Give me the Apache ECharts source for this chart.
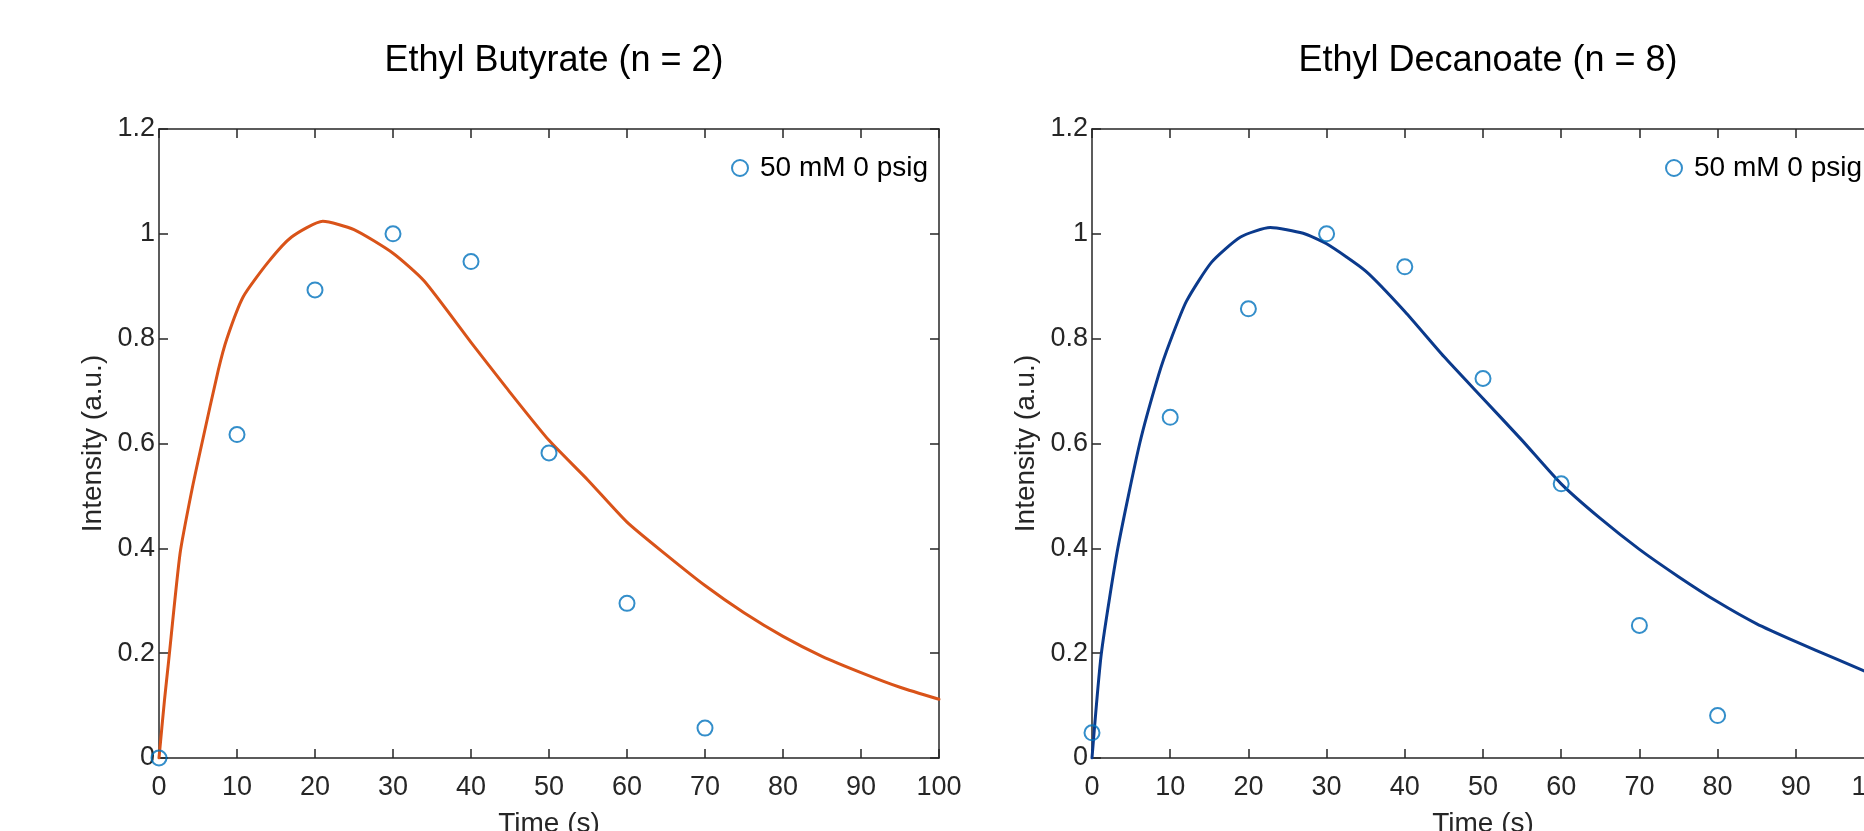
<!DOCTYPE html>
<html>
<head>
<meta charset="utf-8">
<script src="https://cdn.jsdelivr.net/npm/echarts@6/dist/echarts.min.js"></script>
<style>
html,body{margin:0;padding:0;background:#fff;}
#chart{width:1864px;height:831px;}
</style>
</head>
<body>
<div id="chart"></div>
<script>
// ---- data ----
const titles = ['Ethyl Butyrate (n = 2)', 'Ethyl Decanoate (n = 8)'];
const legendName = '50 mM 0 psig';
const xAxisName = 'Time (s)';
const yAxisName = 'Intensity (a.u.)';

const butyrateObsT = [0, 10, 20, 30, 40, 50, 60, 70];
const butyrateObsY = [0, 0.617, 0.893, 1.0, 0.947, 0.582, 0.295, 0.057];

const decanoateObsT = [0, 10, 20, 30, 40, 50, 60, 70, 80];
const decanoateObsY = [0.048, 0.650, 0.857, 1.0, 0.937, 0.724, 0.523, 0.253, 0.081];

const butyrateFitT = [0, 0.7, 1.2, 2.7, 4.2, 5.5, 7.6, 8.7, 10.8, 14, 17, 21, 25, 30, 34, 40, 44.5, 50, 55, 60, 65, 70, 75, 80, 85, 90, 95, 100];
const butyrateFitY = [0, 0.11, 0.18, 0.39, 0.51, 0.60, 0.74, 0.80, 0.88, 0.946, 0.994, 1.024, 1.008, 0.963, 0.91, 0.793, 0.707, 0.606, 0.53, 0.45, 0.388, 0.329, 0.277, 0.232, 0.194, 0.163, 0.135, 0.112];

const decanoateFitT = [0, 1.2, 3.3, 6.1, 8.5, 10, 12.1, 15.3, 19, 22.8, 27, 30, 35, 40, 45, 50, 55, 60, 65, 70, 75, 80, 85, 90, 95, 100];
const decanoateFitY = [0, 0.20, 0.40, 0.60, 0.73, 0.795, 0.872, 0.946, 0.994, 1.012, 1.001, 0.981, 0.929, 0.852, 0.766, 0.686, 0.606, 0.523, 0.457, 0.398, 0.346, 0.298, 0.256, 0.222, 0.19, 0.158];

const xMin = 0, xMax = 100, xStep = 10;
const yMin = 0, yMax = 1.2, yStep = 0.2;

// ---- styling ----
const FONT = 'Liberation Sans, Arial, Helvetica, sans-serif';
const AXIS_COLOR = '#262626';
const MARKER_COLOR = '#0072BD';
const FIT_COLORS = ['#D95319', '#0B3A8C'];

function zip(a, b) { return a.map((v, i) => [v, b[i]]); }

const grids = [
  { left: 159, top: 129, width: 780, height: 629, outerBoundsMode: 'none', containLabel: false },
  { left: 1092, top: 129, width: 782, height: 629, outerBoundsMode: 'none', containLabel: false }
];
const centers = [549, 1483];

const axisLine = { show: true, onZero: false, lineStyle: { color: AXIS_COLOR, width: 1.5 } };
const axisTick = { show: true, inside: true, length: 9, lineStyle: { color: AXIS_COLOR, width: 1.5 } };

const xAxes = [], yAxes = [];
grids.forEach((g, i) => {
  xAxes.push({
    type: 'value', gridIndex: i, position: 'bottom', min: xMin, max: xMax, interval: xStep,
    axisLine, axisTick, splitLine: { show: false },
    axisLabel: { color: AXIS_COLOR, fontFamily: FONT, fontSize: 27, margin: 16 },
    name: xAxisName, nameLocation: 'middle', nameGap: 52,
    nameTextStyle: { color: AXIS_COLOR, fontFamily: FONT, fontSize: 28 }
  });
  xAxes.push({
    type: 'value', gridIndex: i, position: 'top', min: xMin, max: xMax, interval: xStep,
    axisLine, axisTick, splitLine: { show: false }, axisLabel: { show: false }
  });
  yAxes.push({
    type: 'value', gridIndex: i, position: 'left', min: yMin, max: yMax, interval: yStep,
    axisLine, axisTick, splitLine: { show: false },
    axisLabel: { color: AXIS_COLOR, fontFamily: FONT, fontSize: 27, margin: 4 },
    name: yAxisName, nameLocation: 'middle', nameGap: 52,
    nameTextStyle: { color: AXIS_COLOR, fontFamily: FONT, fontSize: 28 }
  });
  yAxes.push({
    type: 'value', gridIndex: i, position: 'right', min: yMin, max: yMax, interval: yStep,
    axisLine, axisTick, splitLine: { show: false }, axisLabel: { show: false }
  });
});

const obs = [zip(butyrateObsT, butyrateObsY), zip(decanoateObsT, decanoateObsY)];
const fits = [zip(butyrateFitT, butyrateFitY), zip(decanoateFitT, decanoateFitY)];

const series = [];
[0, 1].forEach(i => {
  series.push({
    type: 'line', name: 'fit' + i, xAxisIndex: i * 2, yAxisIndex: i * 2,
    data: fits[i], showSymbol: false, smooth: 0.2,
    lineStyle: { color: FIT_COLORS[i], width: 3, join: 'round', cap: 'round' }, z: 2, silent: true
  });
  series.push({
    type: 'scatter', name: legendName, xAxisIndex: i * 2, yAxisIndex: i * 2,
    data: obs[i], symbol: 'circle', symbolSize: 15, clip: false,
    itemStyle: { color: 'rgba(255,255,255,0)', borderColor: MARKER_COLOR, borderWidth: 2 }, z: 3
  });
});

const option = {
  animation: false,
  backgroundColor: '#fff',
  title: titles.map((t, i) => ({
    text: t, left: centers[i], top: 38, textAlign: 'center',
    textStyle: { fontFamily: FONT, fontSize: 36, fontWeight: 'normal', color: '#000' }
  })),
  legend: [731, 1665].map(x => ({
    data: [legendName], left: x, top: 154, padding: 0,
    icon: 'circle', itemWidth: 16, itemHeight: 16,
    itemStyle: { color: '#fff', borderColor: MARKER_COLOR, borderWidth: 2 },
    textStyle: { fontFamily: FONT, fontSize: 28, color: '#000', padding: [0, 0, 0, 7] },
    selectedMode: false
  })),
  grid: grids,
  xAxis: xAxes,
  yAxis: yAxes,
  series
};

const chart = echarts.init(document.getElementById('chart'), null, { renderer: 'canvas' });
chart.setOption(option);
</script>
</body>
</html>
